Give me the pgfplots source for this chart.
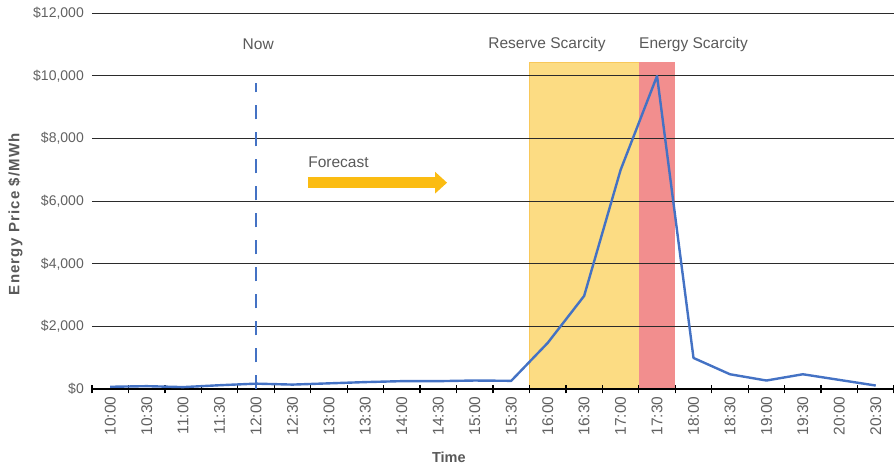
\documentclass[border=0pt]{standalone}
\usepackage{fontspec}
\setmainfont{Liberation Sans}
\usepackage{pgfplots}
\pgfplotsset{compat=1.18}
\usetikzlibrary{arrows.meta}

\definecolor{txtgray}{HTML}{616161}
\definecolor{lblgray}{HTML}{595959}
\definecolor{priceblue}{HTML}{4472C4}
\definecolor{reservefill}{HTML}{FCDC83}
\definecolor{reserveedge}{HTML}{F8C85A}
\definecolor{energyfill}{HTML}{F28E8E}
\definecolor{arrowgold}{HTML}{FBBC12}
\definecolor{gridcol}{HTML}{2B2B2B}

\begin{document}
\begin{tikzpicture}
\begin{axis}[
  set layers=standard,
  scale only axis,
  width=802pt, height=376pt,
  xmin=-0.5, xmax=21.5,
  ymin=0, ymax=12000,
  axis x line*=bottom,
  axis y line*=left,
  axis line style={-},
  x axis line style={black, line width=2.4pt},
  y axis line style={draw=none},
  major tick length=0pt,
  xtick={0,...,21},
  xticklabels={10:00,10:30,11:00,11:30,12:00,12:30,13:00,13:30,14:00,14:30,15:00,15:30,16:00,16:30,17:00,17:30,18:00,18:30,19:00,19:30,20:00,20:30},
  xticklabel style={yshift=-7pt, rotate=90, anchor=east, inner sep=0pt,
    font=\fontsize{15.5}{18}\selectfont, text=txtgray},
  extra x ticks={-0.5,0.5,...,21.5},
  extra x tick labels={},
  extra x tick style={major tick length=8pt, tick align=center,
    tick style={black, line width=1.2pt}},
  ytick={0,2000,...,12000},
  scaled y ticks=false,
  /pgf/number format/1000 sep={,},
  /pgf/number format/assume math mode=true,
  yticklabel={\$\pgfmathprintnumber{\tick}},
  yticklabel style={inner sep=0pt, xshift=-8pt,
    font=\fontsize{14}{16}\selectfont, text=txtgray},
  ymajorgrids,
  grid style={gridcol, line width=1pt},
  clip=false,
]
% scarcity windows behind the grid
\addplot[on layer=axis background, fill=reservefill, draw=reserveedge, line width=0.6pt]
  coordinates {(11.5,0) (14.5,0) (14.5,10440) (11.5,10440)} -- cycle;
\addplot[on layer=axis background, fill=energyfill, draw=none]
  coordinates {(14.5,0) (15.5,0) (15.5,10440) (14.5,10440)} -- cycle;

% "now" marker
\addplot[priceblue, line width=1.8pt, dash pattern=on 14pt off 13pt]
  coordinates {(4,0) (4,9780)};

% energy price
\addplot[priceblue, line width=2.4pt, line join=round] coordinates {
  (0,80) (1,100) (2,70) (3,130) (4,180) (5,150) (6,190) (7,230)
  (8,260) (9,260) (10,280) (11,270) (12,1480) (13,2980) (14,7000)
  (15,10000) (16,1000) (17,480) (18,280) (19,480) (20,300) (21,120)
};

% forecast arrow
\draw[arrowgold, line width=10.7pt, -{Triangle[length=12pt, width=21pt]}]
  (axis cs:5.42,6594) -- (axis cs:9.24,6594);

\begin{scope}[every node/.style={font=\fontsize{15.5}{18}\selectfont, text=lblgray, inner sep=0pt}]
\node at (axis cs:4.06,11020) {Now};
\node at (axis cs:11.98,11020) {Reserve Scarcity};
\node at (axis cs:16.0,11020) {Energy Scarcity};
\node[anchor=west] at (axis cs:5.43,7255) {Forecast};
\end{scope}

\node[rotate=90, inner sep=0pt, font=\bfseries\fontsize{15}{18}\selectfont\addfontfeature{LetterSpace=8}, text=lblgray]
  at ([xshift=-76.5pt]rel axis cs:0,0.466) {Energy Price \$/MWh};
\node[inner sep=0pt, font=\bfseries\fontsize{14.5}{17}\selectfont, text=lblgray]
  at ([yshift=-67.7pt]axis cs:9.29,0) {Time};

\coordinate (sw) at (rel axis cs:0,0);
\coordinate (ne) at (rel axis cs:1,1);
\end{axis}
\pgfresetboundingbox
\path ([shift={(-92pt,-75.7pt)}]sw) rectangle ([shift={(0pt,13.3pt)}]ne);
\end{tikzpicture}
\end{document}
